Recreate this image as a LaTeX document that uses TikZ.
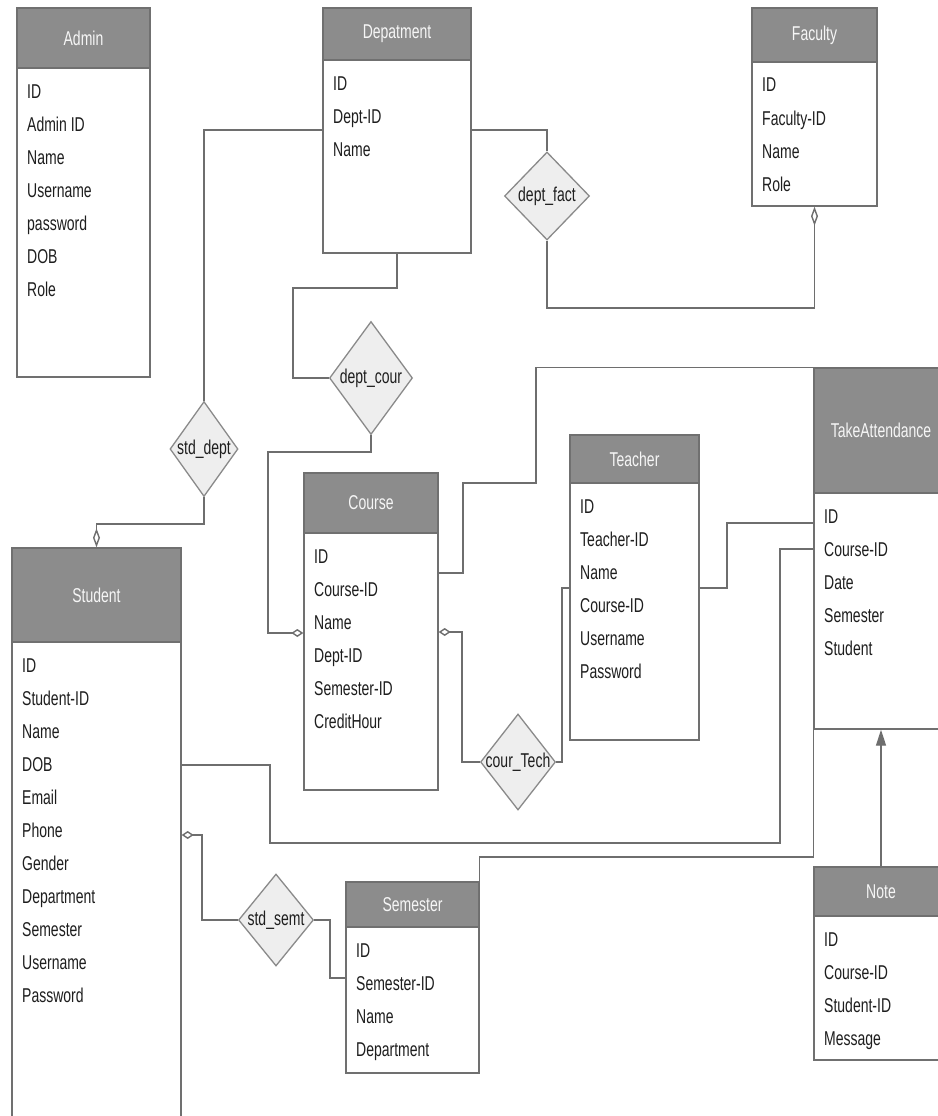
\documentclass[tikz,border=0pt]{standalone}
\usepackage{fontspec}
\setmainfont[FakeStretch=0.7]{Liberation Sans}
\usetikzlibrary{arrows.meta,shapes.geometric}
\definecolor{hdrgray}{HTML}{8C8C8C}
\definecolor{bordergray}{HTML}{707070}
\definecolor{linegray}{HTML}{6E6E6E}
\definecolor{relfill}{HTML}{EEEEEE}
\definecolor{relborder}{HTML}{8A8A8A}
\definecolor{attrtext}{HTML}{1E1E1E}
\definecolor{titletext}{HTML}{F6F6F6}
\tikzset{
  hdr/.style={draw=bordergray, fill=hdrgray, line width=1.4pt, inner sep=0pt, text=titletext},
  bodyb/.style={draw=bordergray, fill=white, line width=1.4pt, inner sep=0pt},
  attr/.style={anchor=base west, inner sep=0pt, text=attrtext},
  rel/.style={diamond, draw=relborder, fill=relfill, line width=1.3pt, inner sep=0pt, text=attrtext},
  conn/.style={draw=linegray, line width=1.4pt},
  odv/.style={-{Diamond[open, length=19pt, width=7pt, fill=white]}},
  odh/.style={-{Diamond[open, length=12pt, width=8pt, fill=white]}},
  odhs/.style={{Diamond[open, length=12pt, width=8pt, fill=white]}-},
  tri/.style={-{Triangle[length=16pt, width=10pt, fill=linegray]}}
}
\newcommand\erbox[8]{%
  \node[hdr, minimum width=#4-#2, minimum height=#5-#3] (#1h) at ({(#2+#4)/2},{(#3+#5)/2}) {#7};
  \node[bodyb, minimum width=#4-#2, minimum height=#6-#5] (#1) at ({(#2+#4)/2},{(#5+#6)/2}) {};
  \foreach \a [count=\i from 0] in {#8} \node[attr] (#1a\i) at ({#2+10},{#5+30+33*\i}) {\a};
}
\begin{document}
\begin{tikzpicture}[x=1pt, y=-1pt, font=\fontsize{20}{23}\selectfont]
\useasboundingbox[fill=white] (0,0) rectangle (937,1116);

\erbox{admin}{17}{8}{150}{68}{377}{Admin}{ID,Admin ID,Name,Username,password,DOB,Role}
\erbox{dept}{323}{8}{471}{60}{253}{Depatment}{ID,Dept-ID,Name}
\erbox{faculty}{752}{8}{877}{62}{206}{Faculty}{ID,Faculty-ID,Name,Role}
\erbox{student}{12}{548}{181}{642}{1125}{Student}{ID,Student-ID,Name,DOB,Email,Phone,Gender,Department,Semester,Username,Password}
\erbox{course}{304}{473}{438}{533}{790}{Course}{ID,Course-ID,Name,Dept-ID,Semester-ID,CreditHour}
\erbox{teacher}{570}{435}{699}{483}{740}{Teacher}{ID,Teacher-ID,Name,Course-ID,Username,Password}
\erbox{ta}{814}{368}{948}{493}{729}{TakeAttendance}{ID,Course-ID,Date,Semester,Student}
\erbox{semester}{346}{882}{479}{927}{1073}{Semester}{ID,Semester-ID,Name,Department}
\erbox{note}{814}{867}{948}{916}{1060}{Note}{ID,Course-ID,Student-ID,Message}

% relationship diamonds
\node[rel, minimum width=68, minimum height=95] (stddept) at (204,449) {\makebox[0pt]{std\_dept}};
\node[rel, minimum width=83, minimum height=113] (deptcour) at (371,378) {\makebox[0pt]{dept\_cour}};
\node[rel, minimum width=85, minimum height=88] (deptfact) at (547,196) {\makebox[0pt]{dept\_fact}};
\node[rel, minimum width=75, minimum height=96] (courtech) at (518,762) {\makebox[0pt]{cour\_Tech}};
\node[rel, minimum width=75, minimum height=92] (stdsemt) at (276,920) {\makebox[0pt]{std\_semt}};

% connectors
\draw[conn] (dept.west |- 0,130) -| (stddept.north);
\draw[conn, odv] (stddept.south) |- (96,524) -| (studenth.north);
\draw[conn] (dept.south) |- (293,288) |- (deptcour.west);
\draw[conn, odh] (deptcour.south) |- (268,452) |- (course.west |- 0,633);
\draw[conn] (dept.east |- 0,130) -| (deptfact.north);
\draw[conn, odv] (deptfact.south) |- (faculty.south |- 0,308) -- (faculty.south);
\draw[conn] (course.east |- 0,573) -| (463,483) -| (tah.north -| 536,0) -- (tah.north);
\draw[conn, odhs] (course.east |- 0,632) -- (462,632) |- (courtech.west);
\draw[conn] (courtech.east) -- (562,762) |- (teacher.west |- 0,588);
\draw[conn] (teacher.east |- 0,588) -- (727,588) |- (ta.west |- 0,523);
\draw[conn] (ta.west |- 0,549) -- (780,549) |- (270,843) |- (student.east |- 0,765);
\draw[conn, odhs] (student.east |- 0,835) -- (202,835) |- (stdsemt.west);
\draw[conn] (stdsemt.east) -- (330,920) |- (semester.west |- 0,978);
\draw[conn] (semester.east |- 0,978) |- (ta.south west |- 0,857) -- (ta.south west);
\draw[conn, tri] (noteh.north) -- (ta.south);
\end{tikzpicture}
\end{document}
